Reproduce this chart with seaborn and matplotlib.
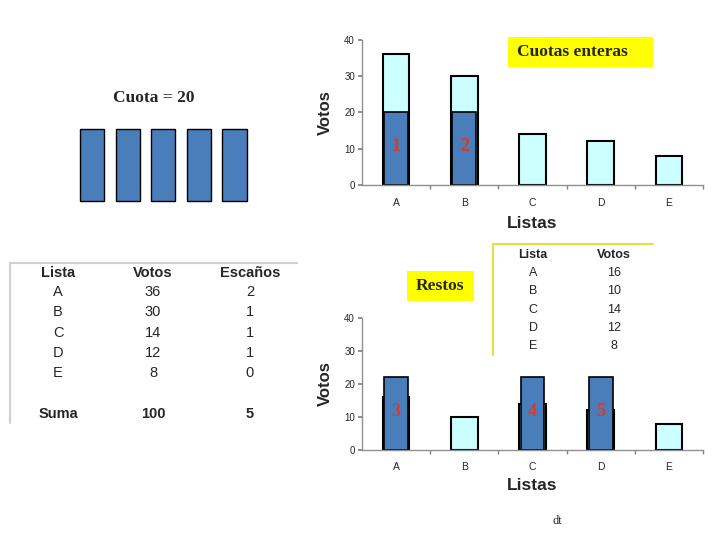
import matplotlib
matplotlib.use('Agg')
import matplotlib.pyplot as plt
import seaborn as sns
from matplotlib.patches import Rectangle
from matplotlib.lines import Line2D

# ---------------- datos ----------------
listas = ['A', 'B', 'C', 'D', 'E']
votos = [36, 30, 14, 12, 8]
escanos = [2, 1, 1, 1, 0]
restos = [16, 10, 14, 12, 8]
cuota = 20
suma_votos = 100
suma_escanos = 5

# escaños por cuota entera
listas_cuota = ['A', 'B']
alto_cuota = [20, 20]
etiq_cuota = ['1', '2']

# escaños por restos
listas_resto = ['A', 'C', 'D']
alto_resto = [22, 22, 22]
etiq_resto = ['3', '4', '5']

bloques = [cuota] * 5

AZUL = '#4A7EBB'
CIAN = '#CCFFFF'
ROJO = '#D93A26'
AMARILLO = '#FFFF00'
W, H = 720, 540

sns.set_theme(style='white')
plt.rcParams['font.family'] = ['Liberation Sans', 'DejaVu Sans']
SERIF = ['Liberation Serif', 'DejaVu Serif']


def caja(x0, y0, x1, y1):
    # caja en pixeles -> rect de figura
    return [x0 / W, 1 - y1 / H, (x1 - x0) / W, (y1 - y0) / H]


def fx(x):
    return x / W


def fy(y):
    return 1 - y / H


def grafico(ax, valores, l_azul, a_azul, etiquetas, y_etiq):
    sns.barplot(x=listas, y=valores, order=listas, color=CIAN, saturation=1,
                edgecolor='black', linewidth=1.5, width=0.39, errorbar=None, ax=ax)
    sns.barplot(x=l_azul, y=a_azul, order=listas, color=AZUL, saturation=1,
                edgecolor='black', linewidth=1.2, width=0.35, errorbar=None, ax=ax)
    for l, t in zip(l_azul, etiquetas):
        ax.text(listas.index(l), y_etiq, t, ha='center', va='center', color=ROJO,
                fontsize=13, fontweight='bold', family=SERIF)
    ax.set_xlim(-0.5, len(listas) - 0.5)
    ax.set_ylim(0, 40)
    ax.set_yticks([0, 10, 20, 30, 40])
    ax.set_xticks(range(len(listas)))
    ax.set_xticks([i + 0.5 for i in range(len(listas))], minor=True)
    ax.tick_params(axis='x', which='major', length=0, pad=9, labelsize=7.5)
    ax.tick_params(axis='x', which='minor', length=3, color='#808080', direction='out', bottom=True)
    ax.tick_params(axis='y', length=3, color='#808080', direction='out', left=True, pad=2, labelsize=7)
    for s in ['top', 'right']:
        ax.spines[s].set_visible(False)
    for s in ['left', 'bottom']:
        ax.spines[s].set_color('#909090')
        ax.spines[s].set_linewidth(1)
    ax.set_ylabel('Votos', fontsize=12, fontweight='bold', va='center')
    ax.set_xlabel('Listas', fontsize=12.5, fontweight='bold', va='center')
    ax.patch.set_alpha(0)


fig = plt.figure(figsize=(7.2, 5.4), dpi=100)

# ---- grafico superior: cuotas enteras ----
ax1 = fig.add_axes(caja(362, 40, 703, 185))
grafico(ax1, votos, listas_cuota, alto_cuota, etiq_cuota, 10.5)
ax1.yaxis.set_label_coords((325 - 362) / 341, 0.5)
ax1.xaxis.set_label_coords(0.5, (185 - 224) / 145)

# ---- grafico inferior: restos ----
ax2 = fig.add_axes(caja(362, 318, 703, 450))
grafico(ax2, restos, listas_resto, alto_resto, etiq_resto, 11.6)
ax2.yaxis.set_label_coords((325 - 362) / 341, 0.5)
ax2.xaxis.set_label_coords(0.5, (450 - 485) / 132)

# ---- bloques de la cuota ----
ax3 = fig.add_axes(caja(74.4, 129.3, 252.3, 201))
sns.barplot(x=list(range(len(bloques))), y=bloques, color=AZUL, saturation=1,
            edgecolor='black', linewidth=1, width=0.68, errorbar=None, ax=ax3)
for p in ax3.patches:
    p.set_clip_on(False)
ax3.set_ylim(0, cuota)
ax3.set_xlim(-0.5, len(bloques) - 0.5)
ax3.axis('off')

fig.text(fx(154), fy(98), f'Cuota = {cuota}', ha='center', va='center',
         fontsize=12.5, fontweight='bold', family=SERIF)

# ---- cajas amarillas ----
fig.patches.append(Rectangle((fx(508), fy(66.7)), (653 - 508) / W, 30 / H,
                             transform=fig.transFigure, facecolor=AMARILLO,
                             edgecolor='none', zorder=0))
fig.text(fx(572), fy(52), 'Cuotas enteras', ha='center', va='center',
         fontsize=12.5, fontweight='bold', family=SERIF)
fig.patches.append(Rectangle((fx(406.7), fy(301)), (474 - 406.7) / W, 30.3 / H,
                             transform=fig.transFigure, facecolor=AMARILLO,
                             edgecolor='none', zorder=0))
fig.text(fx(440), fy(286), 'Restos', ha='center', va='center',
         fontsize=12.5, fontweight='bold', family=SERIF)

# ---- tabla izquierda ----
fig.lines.append(Line2D([fx(10), fx(297)], [fy(262.7), fy(262.7)],
                        transform=fig.transFigure, color='#D0D0D0', lw=1.5))
fig.lines.append(Line2D([fx(10), fx(10)], [fy(262.7), fy(423)],
                        transform=fig.transFigure, color='#D0D0D0', lw=1.5))
cols_izq = [58, 153, 250]
for x, t in zip(cols_izq, ['Lista', 'Votos', 'Escaños']):
    fig.text(fx(x), fy(273), t, ha='center', va='center', fontsize=10.5, fontweight='bold')
for i, (l, v, e) in enumerate(zip(listas, votos, escanos)):
    y = 292 + i * 20.3
    for x, t in zip(cols_izq, [l, v, e]):
        fig.text(fx(x), fy(y), str(t), ha='center', va='center', fontsize=10.5)
for x, t in zip(cols_izq, ['Suma', suma_votos, suma_escanos]):
    fig.text(fx(x), fy(414), str(t), ha='center', va='center', fontsize=10.5, fontweight='bold')

# ---- tabla derecha (restos) ----
fig.lines.append(Line2D([fx(493), fx(653)], [fy(244.3), fy(244.3)],
                        transform=fig.transFigure, color='#E0E040', lw=1.5))
fig.lines.append(Line2D([fx(493), fx(493)], [fy(244.3), fy(355)],
                        transform=fig.transFigure, color='#E0E040', lw=1.5))
cols_der = [533, 614]
for x, t in zip(cols_der, ['Lista', 'Votos']):
    fig.text(fx(x), fy(255), t, ha='center', va='center', fontsize=9, fontweight='bold')
for i, (l, r) in enumerate(zip(listas, restos)):
    y = 273.3 + i * 18.2
    for x, t in zip(cols_der, [l, r]):
        fig.text(fx(x), fy(y), str(t), ha='center', va='center', fontsize=9)

fig.text(fx(557), fy(521), 'dt', ha='center', va='center', fontsize=9, family=SERIF)

fig.savefig('out.png', dpi=100)
